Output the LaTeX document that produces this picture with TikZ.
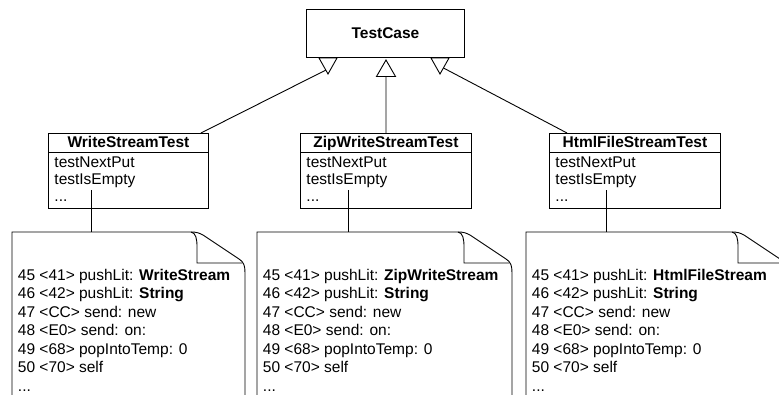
\documentclass[tikz,border=0pt]{standalone}
\usepackage{fontspec}
\setmainfont{Liberation Sans}
\begin{document}
\begin{tikzpicture}[x=1bp,y=-1bp, line width=0.9bp,
  box/.style={draw, fill=white, inner sep=0pt, anchor=north west},
  txt/.style={inner sep=0pt, anchor=base west, font=\fontsize{15.5bp}{18bp}\selectfont},
  hdr/.style={inner sep=0pt, anchor=base, font=\fontsize{15.5bp}{18bp}\selectfont\bfseries},
  gen/.style={draw, fill=white, line join=miter},
  link/.style={draw}]
\useasboundingbox (0,0) rectangle (779,394);
\clip (0,0) rectangle (779,394);

% superclass
\node[box, minimum width=158bp, minimum height=48bp] (tc) at (306,9) {};
\node[hdr] (tct) at ([yshift=-29.5bp]tc.north) {TestCase};

% subclasses with their bytecode notes
\foreach \n/\l/\w/\c/\lx/\nl/\nr/\cls in {
  ws/48/160/WriteStreamTest/91/12/245/WriteStream,
  zw/300/171/ZipWriteStreamTest/348/257/512/ZipWriteStream,
  hf/549/171/HtmlFileStreamTest/606/526/786/HtmlFileStream}{
  \node[box, minimum width=\w bp, minimum height=75bp] (\n) at (\l,133) {};
  \draw ([yshift=-19bp]\n.north west) -- ([yshift=-19bp]\n.north east);
  \node[hdr] (\n-h) at ([yshift=-14.5bp]\n.north) {\c};
  \node[txt] (\n-a) at ([xshift=6bp,yshift=-34bp]\n.north west) {testNextPut};
  \node[txt] (\n-b) at ([xshift=6bp,yshift=-51.5bp]\n.north west) {testIsEmpty};
  \node[txt] (\n-c) at ([xshift=6bp,yshift=-68.5bp]\n.north west) {...};
  % note shape
  \draw[fill=white] (\nl,400) -- (\nl,232) -- ({\nr-54},232)
     .. controls ({\nr-48},232) and ({\nr-46},233) .. ({\nr-42},235)
     -- ({\nr-6},259)
     .. controls ({\nr-1},262) and (\nr,266) .. (\nr,273) -- (\nr,400);
  \draw ({\nr-54},232) .. controls ({\nr-49},233) and ({\nr-48},239) .. ({\nr-48},247)
     -- ({\nr-48},263) -- ({\nr-3},263);
  \coordinate (\n-from) at (\lx,190);
  \coordinate (\n-to) at (\lx,232);
  \draw[link] (\n-from) -- (\n-to);
  \node[txt] (\n-l1) at ({\nl+5.5},280) {45 <41> pushLit: \textbf{\cls}};
  \node[txt] (\n-l2) at ({\nl+5.5},298.5) {46 <42> pushLit: \textbf{String}};
  \node[txt] (\n-l3) at ({\nl+5.5},317) {47 <CC> send: new};
  \node[txt] (\n-l4) at ({\nl+5.5},335.5) {48 <E0> send: on:};
  \node[txt] (\n-l5) at ({\nl+5.5},354) {49 <68> popIntoTemp: 0};
  \node[txt] (\n-l6) at ({\nl+5.5},372.5) {50 <70> self};
  \node[txt] (\n-l7) at ({\nl+5.5},391) {...};
}

% generalization connectors
\coordinate (gl) at (326,70);
\coordinate (gm) at (386,76.5);
\coordinate (gr) at (443.5,68);
\draw[link] ([xshift=-8bp]ws.north east) -- (gl);
\draw[link] (zw.north) -- (gm);
\draw[link] ([xshift=18bp]hf.north west) -- (gr);
\draw[gen] (319,58) -- (337,58) -- (328,74) -- cycle;
\draw[gen] (386,60) -- (395.5,76.5) -- (376.5,76.5) -- cycle;
\draw[gen] (431,58) -- (449,58) -- (440,74) -- cycle;
\end{tikzpicture}
\end{document}
